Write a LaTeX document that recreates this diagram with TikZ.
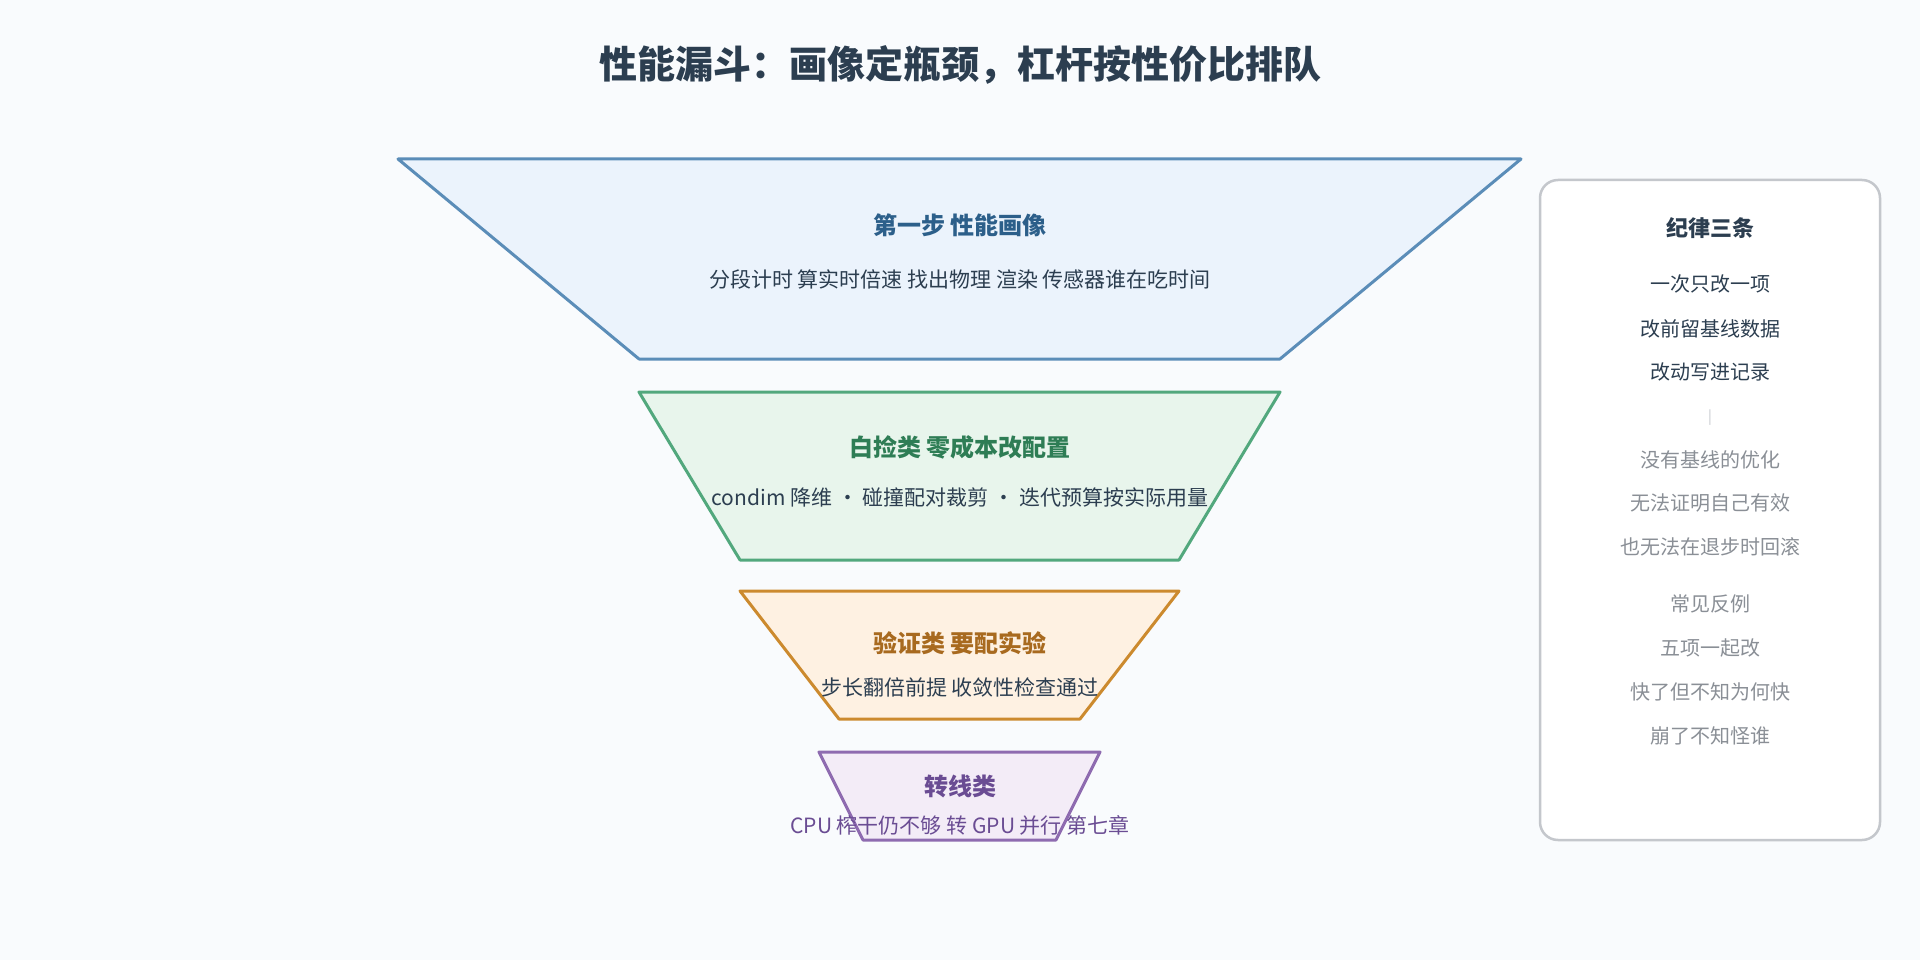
\documentclass[tikz,border=0pt]{standalone}
\usepackage{fontspec}
\setmainfont{Noto Sans CJK SC}
\usetikzlibrary{positioning}
\definecolor{bgc}{HTML}{F9FBFD}
\definecolor{ink}{HTML}{2C3E50}
\definecolor{bluel}{HTML}{5B8DB8}\definecolor{bluef}{HTML}{EBF3FC}\definecolor{blued}{HTML}{2C5F8A}
\definecolor{greenl}{HTML}{52A87D}\definecolor{greenf}{HTML}{E8F5EC}\definecolor{greend}{HTML}{2E7D55}
\definecolor{orangel}{HTML}{CC8A2E}\definecolor{orangef}{HTML}{FEF1E2}\definecolor{oranged}{HTML}{A86A1F}
\definecolor{purplel}{HTML}{8E6BB0}\definecolor{purplef}{HTML}{F3ECF7}\definecolor{purpled}{HTML}{6A4C93}
\definecolor{panell}{HTML}{C4C7CC}
\definecolor{mute}{HTML}{8A8F96}

\begin{document}
\begin{tikzpicture}[x=1pt,y=-1pt,line join=round]

  \tikzstyle{stage}=[line width=3pt]
  \tikzstyle{head}=[font=\fontsize{24}{28}\selectfont\bfseries]
  \tikzstyle{sub}=[font=\fontsize{21}{25}\selectfont,text=ink]
  \tikzstyle{rule}=[font=\fontsize{20}{24}\selectfont,text=ink]
  \tikzstyle{note}=[font=\fontsize{20}{24}\selectfont,text=mute]

  \fill[bgc] (0,0) rectangle (1920,960);

  \node[font=\fontsize{38}{44}\selectfont\bfseries,text=ink] (title) at (960,65)
    {性能漏斗：画像定瓶颈，杠杆按性价比排队};

  % funnel stages
  \draw[stage,draw=bluel,fill=bluef] (398,159) -- (1521,159) -- (1280,359) -- (639,359) -- cycle;
  \draw[stage,draw=greenl,fill=greenf] (639,392) -- (1280,392) -- (1179,560) -- (740,560) -- cycle;
  \draw[stage,draw=orangel,fill=orangef] (740,591) -- (1179,591) -- (1080,719) -- (839,719) -- cycle;
  \draw[stage,draw=purplel,fill=purplef] (819,752) -- (1100,752) -- (1056,840) -- (863,840) -- cycle;

  \node[head,text=blued] (s1) at (960,225) {第一步 性能画像};
  \node[sub] (s1d) at (960,279) {分段计时 算实时倍速 找出物理 渲染 传感器谁在吃时间};
  \node[head,text=greend] (s2) at (960,447) {白捡类 零成本改配置};
  \node[sub] (s2d) at (960,497) {condim 降维 · 碰撞配对裁剪 · 迭代预算按实际用量};
  \node[head,text=oranged] (s3) at (960,643) {验证类 要配实验};
  \node[sub] (s3d) at (960,687) {步长翻倍前提 收敛性检查通过};
  \node[head,text=purpled] (s4) at (960,786) {转线类};
  \node[sub,text=purpled] (s4d) at (960,825) {CPU 榨干仍不够 转 GPU 并行 第七章};

  % discipline panel
  \draw[line width=2.5pt,draw=panell,fill=white,rounded corners=18pt] (1540,180) rectangle (1880,840);
  \node[font=\fontsize{22}{26}\selectfont\bfseries,text=ink] (p0) at (1710,228) {纪律三条};
  \node[rule] (p1) at (1710,284) {一次只改一项};
  \node[rule] (p2) at (1710,329) {改前留基线数据};
  \node[rule] (p3) at (1710,372) {改动写进记录};
  \node[note,text=panell,font=\fontsize{14}{16}\selectfont] (p4) at (1710,418) {|};
  \node[note] (p5) at (1710,460) {没有基线的优化};
  \node[note] (p6) at (1710,503) {无法证明自己有效};
  \node[note] (p7) at (1710,547) {也无法在退步时回滚};
  \node[note] (p8) at (1710,604) {常见反例};
  \node[note] (p9) at (1710,648) {五项一起改};
  \node[note] (p10) at (1710,692) {快了但不知为何快};
  \node[note] (p11) at (1710,736) {崩了不知怪谁};
\end{tikzpicture}
\end{document}
